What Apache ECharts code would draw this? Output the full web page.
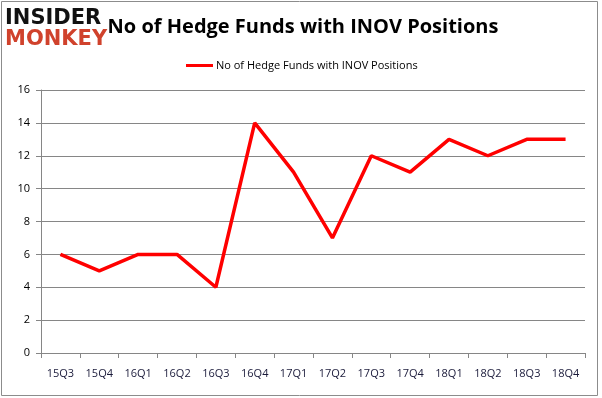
<!DOCTYPE html>
<html>
<head>
<meta charset="utf-8">
<script src="https://cdn.jsdelivr.net/npm/echarts@6/dist/echarts.min.js"></script>
<style>
* {margin: 0; padding: 0;}
body {background: #fff;}
#main {width: 602px; height: 398px;}
</style>
</head>
<body>
<div id="main"></div>
<script>
// 季度与对冲基金持仓数
const quarters = ['15Q3', '15Q4', '16Q1', '16Q2', '16Q3', '16Q4', '17Q1',
    '17Q2', '17Q3', '17Q4', '18Q1', '18Q2', '18Q3', '18Q4'];
const fundCounts = [6, 5, 6, 6, 4, 14, 11, 7, 12, 11, 13, 12, 13, 13];
const seriesName = 'No of Hedge Funds with INOV Positions';

const chart = echarts.init(document.getElementById('main'));
chart.setOption({
    animation: false,
    backgroundColor: '#fff',
    title: {
        text: seriesName,
        left: 298,
        top: 12,
        textAlign: 'center',
        textStyle: {fontFamily: 'Open Sans', fontSize: 20, fontWeight: 'bold', color: '#000'}
    },
    legend: {
        top: 55,
        left: 181,
        itemWidth: 27,
        itemHeight: 3,
        itemGap: 2,
        icon: 'rect',
        textStyle: {fontFamily: 'Open Sans', fontSize: 11, color: '#000', padding: [0, 0, 0, -2]},
        data: [seriesName]
    },
    grid: {left: 41, right: 17, top: 90, bottom: 45},
    xAxis: {
        type: 'category',
        data: quarters,
        boundaryGap: true,
        axisLine: {lineStyle: {color: '#868686'}},
        axisTick: {show: true, alignWithLabel: false, length: 5, lineStyle: {color: '#868686'}},
        axisLabel: {fontFamily: 'Open Sans', fontSize: 11, color: '#1a1a3a', margin: 15}
    },
    yAxis: {
        type: 'value',
        min: 0,
        max: 16,
        interval: 2,
        axisLine: {show: true, lineStyle: {color: '#868686'}},
        axisTick: {show: true, length: 5, lineStyle: {color: '#868686'}},
        axisLabel: {fontFamily: 'Open Sans', fontSize: 11, color: '#000', margin: 11},
        splitLine: {lineStyle: {color: '#868686'}}
    },
    series: [{
        name: seriesName,
        type: 'line',
        data: fundCounts,
        symbol: 'none',
        color: '#ff0000',
        lineStyle: {width: 3.5, color: '#ff0000'}
    }],
    graphic: [
        {
            type: 'rect',
            shape: {x: 1.5, y: 1.5, width: 596, height: 394},
            style: {fill: 'none', stroke: '#8c8c8c', lineWidth: 1}
        },
        {
            type: 'text',
            left: 5,
            top: 8,
            style: {text: 'INSIDER', font: 'bold 21px "DejaVu Sans"', fill: '#111'}
        },
        {
            type: 'text',
            left: 5,
            top: 29,
            style: {text: 'MONKEY', font: 'bold 21px "DejaVu Sans"', fill: '#d0422c'}
        }
    ]
});
</script>
</body>
</html>
